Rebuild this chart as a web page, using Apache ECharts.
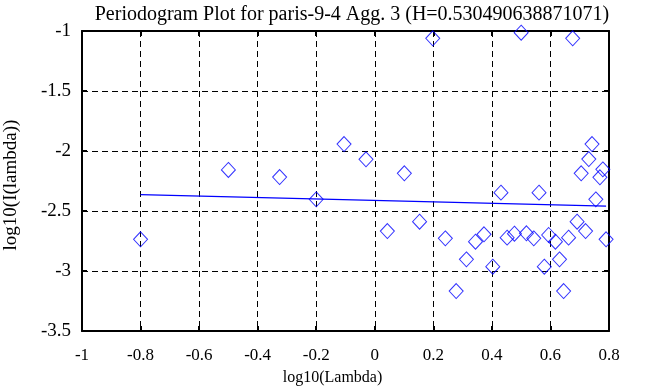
<!DOCTYPE html>
<html>
<head>
<meta charset="utf-8">
<script src="https://cdn.jsdelivr.net/npm/echarts@6/dist/echarts.min.js"></script>
<style>html,body{margin:0;padding:0;background:#fff;}#c{width:647px;height:387px;}</style>
</head>
<body>
<div id="c"></div>
<script>
// log10(lambda) values
var logLambda = [-0.800, -0.500, -0.325, -0.200, -0.105, -0.030, 0.043, 0.101, 0.153, 0.198,
  0.241, 0.278, 0.313, 0.344, 0.373, 0.403, 0.431, 0.452, 0.477, 0.500,
  0.518, 0.543, 0.561, 0.579, 0.594, 0.617, 0.631, 0.645, 0.662, 0.676,
  0.691, 0.705, 0.720, 0.731, 0.742, 0.755, 0.769, 0.779, 0.790];
// log10(I(lambda)) values
var logI = [-2.736, -2.158, -2.217, -2.403, -1.942, -2.069, -2.667, -2.186, -2.589, -1.061,
  -2.728, -3.167, -2.903, -2.756, -2.694, -2.964, -2.347, -2.722, -2.689, -1.014,
  -2.686, -2.728, -2.347, -2.964, -2.700, -2.756, -2.903, -3.167, -2.722, -1.061,
  -2.589, -2.186, -2.667, -2.067, -1.942, -2.403, -2.219, -2.153, -2.736];
// fitted line end points
var fitX = [-0.800, 0.790];
var fitY = [-2.364, -2.459];

var titleText = 'Periodogram Plot for paris-9-4 Agg. 3 (H=0.530490638871071)';
var xName = 'log10(Lambda)';
var yName = 'log10(I(lambda))';

var serif = '"Liberation Serif", "DejaVu Serif", serif';
var pts = logLambda.map(function (x, i) { return [x, logI[i]]; });
var fit = fitX.map(function (x, i) { return [x, fitY[i]]; });

var chart = echarts.init(document.getElementById('c'), null, {renderer: 'canvas'});
var axLine = {show: true, onZero: false, lineStyle: {color: '#000', width: 2}};
var tick = {show: true, inside: true, length: 5, lineStyle: {color: '#000', width: 2}};
var split = {show: true, lineStyle: {color: '#000', width: 1, type: [6, 4]}};
chart.setOption({
  animation: false,
  backgroundColor: '#fff',
  title: {
    text: titleText, left: 347, top: 0, textAlign: 'center',
    textStyle: {fontFamily: serif, fontSize: 20, fontWeight: 'normal', color: '#000'}
  },
  grid: {left: 82, right: 38, top: 31, bottom: 56, containLabel: false, outerBoundsMode: 'none'},
  xAxis: [{
    type: 'value', min: -1, max: 0.8, interval: 0.2, position: 'bottom',
    name: xName, nameLocation: 'middle', nameGap: 39,
    nameTextStyle: {fontFamily: serif, fontSize: 16, color: '#000', padding: [0, 26, 0, 0]},
    axisLine: axLine, axisTick: tick, splitLine: split,
    axisLabel: {fontFamily: serif, fontSize: 17, color: '#000', margin: 16}
  }, {
    type: 'value', min: -1, max: 0.8, interval: 0.2, position: 'top',
    axisLine: axLine, axisTick: tick, splitLine: {show: false}, axisLabel: {show: false}
  }],
  yAxis: [{
    type: 'value', min: -3.5, max: -1, interval: 0.5, position: 'left',
    name: yName, nameLocation: 'middle', nameGap: 61, nameRotate: 90,
    nameTextStyle: {fontFamily: serif, fontSize: 19, color: '#000', padding: [0, 8, 0, 0]},
    axisLine: axLine, axisTick: tick, splitLine: split,
    axisLabel: {fontFamily: serif, fontSize: 19, color: '#000', margin: 11, padding: [13, 0, 0, 0]}
  }, {
    type: 'value', min: -3.5, max: -1, interval: 0.5, position: 'right',
    axisLine: axLine, axisTick: tick, splitLine: {show: false}, axisLabel: {show: false}
  }],
  series: [{
    type: 'scatter', data: pts, symbol: 'diamond', symbolSize: [14, 15],
    itemStyle: {color: 'rgba(0,0,0,0)', borderColor: '#0000ff', borderWidth: 1},
    clip: false, z: 3
  }, {
    type: 'line', data: fit, symbol: 'none',
    lineStyle: {color: '#0000ff', width: 1.2}, z: 4
  }]
});
</script>
</body>
</html>
